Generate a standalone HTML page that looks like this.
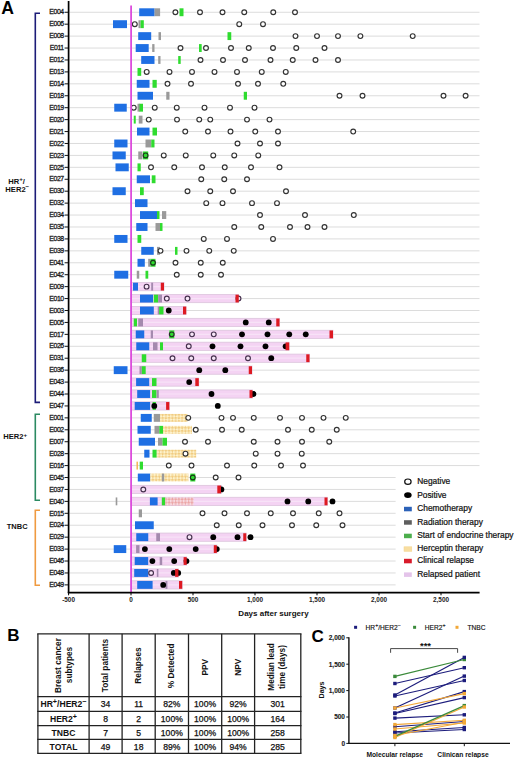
<!DOCTYPE html>
<html><head><meta charset="utf-8"><style>
html,body{margin:0;padding:0;background:#fff;}
body{width:520px;height:758px;overflow:hidden;font-family:"Liberation Sans", sans-serif;}
</style></head><body>
<svg width="520" height="758" viewBox="0 0 520 758" style="display:block" font-family='"Liberation Sans", sans-serif'>
<defs>
<pattern id="hc" width="4.6" height="4.6" patternUnits="userSpaceOnUse" patternTransform="rotate(45)">
<rect width="4.6" height="4.6" fill="#fdf2cc"/><rect width="2.3" height="2.3" fill="#f1cc82"/><rect x="2.3" y="2.3" width="2.3" height="2.3" fill="#f1cc82"/></pattern>
<pattern id="hcp" width="4.6" height="4.6" patternUnits="userSpaceOnUse" patternTransform="rotate(45)">
<rect width="4.6" height="4.6" fill="#f7dbe2"/><rect width="2.3" height="2.3" fill="#eca6a6"/><rect x="2.3" y="2.3" width="2.3" height="2.3" fill="#eca6a6"/></pattern>
</defs>
<rect width="520" height="758" fill="#fff"/>
<line x1="69.5" y1="12.25" x2="479.5" y2="12.25" stroke="#dcdcdc" stroke-width="1"/>
<line x1="69.5" y1="24.18" x2="479.5" y2="24.18" stroke="#dcdcdc" stroke-width="1"/>
<line x1="69.5" y1="36.11" x2="479.5" y2="36.11" stroke="#dcdcdc" stroke-width="1"/>
<line x1="69.5" y1="48.04" x2="479.5" y2="48.04" stroke="#dcdcdc" stroke-width="1"/>
<line x1="69.5" y1="59.97" x2="479.5" y2="59.97" stroke="#dcdcdc" stroke-width="1"/>
<line x1="69.5" y1="71.90" x2="479.5" y2="71.90" stroke="#dcdcdc" stroke-width="1"/>
<line x1="69.5" y1="83.83" x2="479.5" y2="83.83" stroke="#dcdcdc" stroke-width="1"/>
<line x1="69.5" y1="95.76" x2="479.5" y2="95.76" stroke="#dcdcdc" stroke-width="1"/>
<line x1="69.5" y1="107.69" x2="479.5" y2="107.69" stroke="#dcdcdc" stroke-width="1"/>
<line x1="69.5" y1="119.62" x2="479.5" y2="119.62" stroke="#dcdcdc" stroke-width="1"/>
<line x1="69.5" y1="131.55" x2="479.5" y2="131.55" stroke="#dcdcdc" stroke-width="1"/>
<line x1="69.5" y1="143.48" x2="479.5" y2="143.48" stroke="#dcdcdc" stroke-width="1"/>
<line x1="69.5" y1="155.41" x2="479.5" y2="155.41" stroke="#dcdcdc" stroke-width="1"/>
<line x1="69.5" y1="167.34" x2="479.5" y2="167.34" stroke="#dcdcdc" stroke-width="1"/>
<line x1="69.5" y1="179.27" x2="479.5" y2="179.27" stroke="#dcdcdc" stroke-width="1"/>
<line x1="69.5" y1="191.20" x2="479.5" y2="191.20" stroke="#dcdcdc" stroke-width="1"/>
<line x1="69.5" y1="203.13" x2="479.5" y2="203.13" stroke="#dcdcdc" stroke-width="1"/>
<line x1="69.5" y1="215.06" x2="479.5" y2="215.06" stroke="#dcdcdc" stroke-width="1"/>
<line x1="69.5" y1="226.99" x2="479.5" y2="226.99" stroke="#dcdcdc" stroke-width="1"/>
<line x1="69.5" y1="238.92" x2="479.5" y2="238.92" stroke="#dcdcdc" stroke-width="1"/>
<line x1="69.5" y1="250.85" x2="479.5" y2="250.85" stroke="#dcdcdc" stroke-width="1"/>
<line x1="69.5" y1="262.78" x2="479.5" y2="262.78" stroke="#dcdcdc" stroke-width="1"/>
<line x1="69.5" y1="274.71" x2="479.5" y2="274.71" stroke="#dcdcdc" stroke-width="1"/>
<line x1="69.5" y1="286.64" x2="479.5" y2="286.64" stroke="#dcdcdc" stroke-width="1"/>
<line x1="69.5" y1="298.57" x2="479.5" y2="298.57" stroke="#dcdcdc" stroke-width="1"/>
<line x1="69.5" y1="310.50" x2="479.5" y2="310.50" stroke="#dcdcdc" stroke-width="1"/>
<line x1="69.5" y1="322.43" x2="479.5" y2="322.43" stroke="#dcdcdc" stroke-width="1"/>
<line x1="69.5" y1="334.36" x2="479.5" y2="334.36" stroke="#dcdcdc" stroke-width="1"/>
<line x1="69.5" y1="346.29" x2="479.5" y2="346.29" stroke="#dcdcdc" stroke-width="1"/>
<line x1="69.5" y1="358.22" x2="479.5" y2="358.22" stroke="#dcdcdc" stroke-width="1"/>
<line x1="69.5" y1="370.15" x2="479.5" y2="370.15" stroke="#dcdcdc" stroke-width="1"/>
<line x1="69.5" y1="382.08" x2="479.5" y2="382.08" stroke="#dcdcdc" stroke-width="1"/>
<line x1="69.5" y1="394.01" x2="479.5" y2="394.01" stroke="#dcdcdc" stroke-width="1"/>
<line x1="69.5" y1="405.94" x2="479.5" y2="405.94" stroke="#dcdcdc" stroke-width="1"/>
<line x1="69.5" y1="417.87" x2="479.5" y2="417.87" stroke="#dcdcdc" stroke-width="1"/>
<line x1="69.5" y1="429.80" x2="479.5" y2="429.80" stroke="#dcdcdc" stroke-width="1"/>
<line x1="69.5" y1="441.73" x2="479.5" y2="441.73" stroke="#dcdcdc" stroke-width="1"/>
<line x1="69.5" y1="453.66" x2="479.5" y2="453.66" stroke="#dcdcdc" stroke-width="1"/>
<line x1="69.5" y1="465.59" x2="479.5" y2="465.59" stroke="#dcdcdc" stroke-width="1"/>
<line x1="69.5" y1="477.52" x2="479.5" y2="477.52" stroke="#dcdcdc" stroke-width="1"/>
<line x1="69.5" y1="489.45" x2="479.5" y2="489.45" stroke="#dcdcdc" stroke-width="1"/>
<line x1="69.5" y1="501.38" x2="479.5" y2="501.38" stroke="#dcdcdc" stroke-width="1"/>
<line x1="69.5" y1="513.31" x2="479.5" y2="513.31" stroke="#dcdcdc" stroke-width="1"/>
<line x1="69.5" y1="525.24" x2="479.5" y2="525.24" stroke="#dcdcdc" stroke-width="1"/>
<line x1="69.5" y1="537.17" x2="479.5" y2="537.17" stroke="#dcdcdc" stroke-width="1"/>
<line x1="69.5" y1="549.10" x2="479.5" y2="549.10" stroke="#dcdcdc" stroke-width="1"/>
<line x1="69.5" y1="561.03" x2="479.5" y2="561.03" stroke="#dcdcdc" stroke-width="1"/>
<line x1="69.5" y1="572.96" x2="479.5" y2="572.96" stroke="#dcdcdc" stroke-width="1"/>
<line x1="69.5" y1="584.89" x2="479.5" y2="584.89" stroke="#dcdcdc" stroke-width="1"/>
<rect x="131" y="282.54" width="33.00" height="8.2" fill="#f4d3f3" stroke="#dcc4dc" stroke-width="0.8"/>
<line x1="131" y1="286.64" x2="164.00" y2="286.64" stroke="#f7e2f7" stroke-width="1.2"/>
<rect x="131" y="294.47" width="107.50" height="8.2" fill="#f4d3f3" stroke="#dcc4dc" stroke-width="0.8"/>
<line x1="131" y1="298.57" x2="238.50" y2="298.57" stroke="#f7e2f7" stroke-width="1.2"/>
<rect x="131" y="306.40" width="55.00" height="8.2" fill="#f4d3f3" stroke="#dcc4dc" stroke-width="0.8"/>
<line x1="131" y1="310.50" x2="186.00" y2="310.50" stroke="#f7e2f7" stroke-width="1.2"/>
<rect x="131" y="318.33" width="148.50" height="8.2" fill="#f4d3f3" stroke="#dcc4dc" stroke-width="0.8"/>
<line x1="131" y1="322.43" x2="279.50" y2="322.43" stroke="#f7e2f7" stroke-width="1.2"/>
<rect x="131" y="330.26" width="202.00" height="8.2" fill="#f4d3f3" stroke="#dcc4dc" stroke-width="0.8"/>
<line x1="131" y1="334.36" x2="333.00" y2="334.36" stroke="#f7e2f7" stroke-width="1.2"/>
<rect x="131" y="342.19" width="158.00" height="8.2" fill="#f4d3f3" stroke="#dcc4dc" stroke-width="0.8"/>
<line x1="131" y1="346.29" x2="289.00" y2="346.29" stroke="#f7e2f7" stroke-width="1.2"/>
<rect x="131" y="354.12" width="178.50" height="8.2" fill="#f4d3f3" stroke="#dcc4dc" stroke-width="0.8"/>
<line x1="131" y1="358.22" x2="309.50" y2="358.22" stroke="#f7e2f7" stroke-width="1.2"/>
<rect x="131" y="366.05" width="121.00" height="8.2" fill="#f4d3f3" stroke="#dcc4dc" stroke-width="0.8"/>
<line x1="131" y1="370.15" x2="252.00" y2="370.15" stroke="#f7e2f7" stroke-width="1.2"/>
<rect x="131" y="377.98" width="67.75" height="8.2" fill="#f4d3f3" stroke="#dcc4dc" stroke-width="0.8"/>
<line x1="131" y1="382.08" x2="198.75" y2="382.08" stroke="#f7e2f7" stroke-width="1.2"/>
<rect x="131" y="389.91" width="121.50" height="8.2" fill="#f4d3f3" stroke="#dcc4dc" stroke-width="0.8"/>
<line x1="131" y1="394.01" x2="252.50" y2="394.01" stroke="#f7e2f7" stroke-width="1.2"/>
<rect x="131" y="401.84" width="38.30" height="8.2" fill="#f4d3f3" stroke="#dcc4dc" stroke-width="0.8"/>
<line x1="131" y1="405.94" x2="169.30" y2="405.94" stroke="#f7e2f7" stroke-width="1.2"/>
<rect x="131" y="485.35" width="90.50" height="8.2" fill="#f4d3f3" stroke="#dcc4dc" stroke-width="0.8"/>
<line x1="131" y1="489.45" x2="221.50" y2="489.45" stroke="#f7e2f7" stroke-width="1.2"/>
<rect x="131" y="497.28" width="196.50" height="8.2" fill="#f4d3f3" stroke="#dcc4dc" stroke-width="0.8"/>
<line x1="131" y1="501.38" x2="327.50" y2="501.38" stroke="#f7e2f7" stroke-width="1.2"/>
<rect x="131" y="533.07" width="115.25" height="8.2" fill="#f4d3f3" stroke="#dcc4dc" stroke-width="0.8"/>
<line x1="131" y1="537.17" x2="246.25" y2="537.17" stroke="#f7e2f7" stroke-width="1.2"/>
<rect x="131" y="545.00" width="86.00" height="8.2" fill="#f4d3f3" stroke="#dcc4dc" stroke-width="0.8"/>
<line x1="131" y1="549.10" x2="217.00" y2="549.10" stroke="#f7e2f7" stroke-width="1.2"/>
<rect x="131" y="556.93" width="55.70" height="8.2" fill="#f4d3f3" stroke="#dcc4dc" stroke-width="0.8"/>
<line x1="131" y1="561.03" x2="186.70" y2="561.03" stroke="#f7e2f7" stroke-width="1.2"/>
<rect x="131" y="568.86" width="47.40" height="8.2" fill="#f4d3f3" stroke="#dcc4dc" stroke-width="0.8"/>
<line x1="131" y1="572.96" x2="178.40" y2="572.96" stroke="#f7e2f7" stroke-width="1.2"/>
<rect x="131" y="580.79" width="51.20" height="8.2" fill="#f4d3f3" stroke="#dcc4dc" stroke-width="0.8"/>
<line x1="131" y1="584.89" x2="182.20" y2="584.89" stroke="#f7e2f7" stroke-width="1.2"/>
<rect x="139.20" y="8.30" width="15.40" height="7.9" fill="#1f6fe3"/>
<rect x="154.60" y="8.30" width="5.50" height="7.9" fill="#9a9a9a"/>
<rect x="179.50" y="8.30" width="4.00" height="7.9" fill="#2fdc2f"/>
<rect x="113.00" y="20.23" width="14.00" height="7.9" fill="#1f6fe3"/>
<rect x="138.50" y="20.23" width="2.10" height="7.9" fill="#9a9a9a"/>
<rect x="140.60" y="20.23" width="3.20" height="7.9" fill="#2fdc2f"/>
<rect x="138.20" y="32.16" width="13.00" height="7.9" fill="#1f6fe3"/>
<rect x="158.50" y="32.16" width="2.50" height="7.9" fill="#9a9a9a"/>
<rect x="227.50" y="32.16" width="3.75" height="7.9" fill="#2fdc2f"/>
<rect x="135.70" y="44.09" width="13.00" height="7.9" fill="#1f6fe3"/>
<rect x="152.20" y="44.09" width="2.30" height="7.9" fill="#9a9a9a"/>
<rect x="199.00" y="44.09" width="2.70" height="7.9" fill="#2fdc2f"/>
<rect x="141.20" y="56.02" width="13.30" height="7.9" fill="#1f6fe3"/>
<rect x="158.20" y="56.02" width="2.30" height="7.9" fill="#9a9a9a"/>
<rect x="178.20" y="56.02" width="2.50" height="7.9" fill="#2fdc2f"/>
<rect x="137.50" y="67.95" width="3.70" height="7.9" fill="#2fdc2f"/>
<rect x="136.75" y="79.88" width="12.75" height="7.9" fill="#1f6fe3"/>
<rect x="152.50" y="79.88" width="4.25" height="7.9" fill="#2fdc2f"/>
<rect x="137.50" y="91.81" width="15.50" height="7.9" fill="#1f6fe3"/>
<rect x="166.25" y="91.81" width="3.25" height="7.9" fill="#9a9a9a"/>
<rect x="243.75" y="91.81" width="3.25" height="7.9" fill="#2fdc2f"/>
<rect x="114.25" y="103.74" width="12.50" height="7.9" fill="#1f6fe3"/>
<rect x="137.50" y="103.74" width="2.50" height="7.9" fill="#9a9a9a"/>
<rect x="139.50" y="103.74" width="3.50" height="7.9" fill="#2fdc2f"/>
<rect x="133.75" y="115.67" width="2.00" height="7.9" fill="#2fdc2f"/>
<rect x="138.75" y="115.67" width="3.75" height="7.9" fill="#9a9a9a"/>
<rect x="137.00" y="127.60" width="12.50" height="7.9" fill="#1f6fe3"/>
<rect x="152.50" y="127.60" width="4.50" height="7.9" fill="#2fdc2f"/>
<rect x="114.25" y="139.53" width="13.25" height="7.9" fill="#1f6fe3"/>
<rect x="145.50" y="139.53" width="5.75" height="7.9" fill="#9a9a9a"/>
<rect x="151.25" y="139.53" width="3.25" height="7.9" fill="#2fdc2f"/>
<rect x="112.50" y="151.46" width="13.25" height="7.9" fill="#1f6fe3"/>
<rect x="138.25" y="151.46" width="4.25" height="7.9" fill="#9a9a9a"/>
<rect x="143.00" y="151.46" width="5.20" height="7.9" fill="#2fdc2f"/>
<rect x="115.50" y="163.39" width="13.25" height="7.9" fill="#1f6fe3"/>
<rect x="137.50" y="163.39" width="3.25" height="7.9" fill="#2fdc2f"/>
<rect x="136.75" y="175.32" width="13.25" height="7.9" fill="#1f6fe3"/>
<rect x="151.75" y="175.32" width="3.75" height="7.9" fill="#2fdc2f"/>
<rect x="112.50" y="187.25" width="13.25" height="7.9" fill="#1f6fe3"/>
<rect x="140.00" y="187.25" width="3.75" height="7.9" fill="#2fdc2f"/>
<rect x="135.00" y="199.18" width="12.50" height="7.9" fill="#1f6fe3"/>
<rect x="140.00" y="211.11" width="17.00" height="7.9" fill="#1f6fe3"/>
<rect x="157.00" y="211.11" width="2.50" height="7.9" fill="#2fdc2f"/>
<rect x="162.00" y="211.11" width="4.25" height="7.9" fill="#9a9a9a"/>
<rect x="136.25" y="223.04" width="11.25" height="7.9" fill="#1f6fe3"/>
<rect x="155.50" y="223.04" width="4.50" height="7.9" fill="#9a9a9a"/>
<rect x="160.00" y="223.04" width="2.50" height="7.9" fill="#2fdc2f"/>
<rect x="114.25" y="234.97" width="13.25" height="7.9" fill="#1f6fe3"/>
<rect x="137.50" y="234.97" width="3.75" height="7.9" fill="#2fdc2f"/>
<rect x="141.25" y="246.90" width="12.50" height="7.9" fill="#1f6fe3"/>
<rect x="157.00" y="246.90" width="3.00" height="7.9" fill="#9a9a9a"/>
<rect x="175.00" y="246.90" width="2.50" height="7.9" fill="#2fdc2f"/>
<rect x="137.50" y="258.83" width="7.30" height="7.9" fill="#1f6fe3"/>
<rect x="148.20" y="258.83" width="2.40" height="7.9" fill="#9a9a9a"/>
<rect x="150.50" y="258.83" width="5.00" height="7.9" fill="#2fdc2f"/>
<rect x="114.25" y="270.76" width="14.00" height="7.9" fill="#1f6fe3"/>
<rect x="136.75" y="270.76" width="2.50" height="7.9" fill="#9a9a9a"/>
<rect x="145.50" y="270.76" width="2.75" height="7.9" fill="#2fdc2f"/>
<rect x="133.00" y="282.69" width="5.00" height="7.9" fill="#1f6fe3"/>
<rect x="151.20" y="282.69" width="1.90" height="7.9" fill="#a48aae"/>
<rect x="140.00" y="294.62" width="13.00" height="7.9" fill="#1f6fe3"/>
<rect x="153.75" y="294.62" width="4.45" height="7.9" fill="#2fdc2f"/>
<rect x="158.20" y="294.62" width="3.80" height="7.9" fill="#a48aae"/>
<rect x="140.00" y="306.55" width="13.80" height="7.9" fill="#1f6fe3"/>
<rect x="157.70" y="306.55" width="1.40" height="7.9" fill="#a48aae"/>
<rect x="159.10" y="306.55" width="4.40" height="7.9" fill="#2fdc2f"/>
<rect x="133.75" y="318.48" width="3.25" height="7.9" fill="#2fdc2f"/>
<rect x="138.25" y="318.48" width="4.75" height="7.9" fill="#a48aae"/>
<rect x="135.75" y="330.41" width="8.50" height="7.9" fill="#1f6fe3"/>
<rect x="150.75" y="330.41" width="2.25" height="7.9" fill="#a48aae"/>
<rect x="169.30" y="330.41" width="5.00" height="7.9" fill="#2fdc2f"/>
<rect x="136.25" y="342.34" width="13.00" height="7.9" fill="#1f6fe3"/>
<rect x="153.00" y="342.34" width="4.50" height="7.9" fill="#a48aae"/>
<rect x="160.00" y="342.34" width="3.00" height="7.9" fill="#2fdc2f"/>
<rect x="141.75" y="354.27" width="4.50" height="7.9" fill="#2fdc2f"/>
<rect x="113.75" y="366.20" width="13.75" height="7.9" fill="#1f6fe3"/>
<rect x="139.50" y="366.20" width="2.30" height="7.9" fill="#a48aae"/>
<rect x="141.80" y="366.20" width="3.90" height="7.9" fill="#2fdc2f"/>
<rect x="136.10" y="378.13" width="13.10" height="7.9" fill="#1f6fe3"/>
<rect x="152.00" y="378.13" width="4.50" height="7.9" fill="#2fdc2f"/>
<rect x="137.20" y="390.06" width="12.90" height="7.9" fill="#1f6fe3"/>
<rect x="152.00" y="390.06" width="4.50" height="7.9" fill="#2fdc2f"/>
<rect x="156.80" y="390.06" width="2.00" height="7.9" fill="#a48aae"/>
<rect x="134.70" y="401.99" width="15.40" height="7.9" fill="#1f6fe3"/>
<rect x="152.60" y="401.99" width="3.30" height="7.9" fill="#2fdc2f"/>
<rect x="140.75" y="413.92" width="11.00" height="7.9" fill="#1f6fe3"/>
<rect x="153.75" y="413.92" width="6.25" height="7.9" fill="#9a9a9a"/>
<rect x="160.00" y="413.92" width="27.50" height="7.9" fill="url(#hc)"/>
<rect x="137.50" y="425.85" width="13.25" height="7.9" fill="#1f6fe3"/>
<rect x="154.50" y="425.85" width="4.75" height="7.9" fill="#9a9a9a"/>
<rect x="159.25" y="425.85" width="3.75" height="7.9" fill="#2fdc2f"/>
<rect x="163.00" y="425.85" width="29.00" height="7.9" fill="url(#hc)"/>
<rect x="138.75" y="437.78" width="16.25" height="7.9" fill="#1f6fe3"/>
<rect x="158.00" y="437.78" width="4.50" height="7.9" fill="#9a9a9a"/>
<rect x="162.50" y="437.78" width="4.50" height="7.9" fill="#2fdc2f"/>
<rect x="144.25" y="449.71" width="5.25" height="7.9" fill="#1f6fe3"/>
<rect x="152.50" y="449.71" width="4.25" height="7.9" fill="#2fdc2f"/>
<rect x="156.75" y="449.71" width="39.50" height="7.9" fill="url(#hc)"/>
<rect x="136.50" y="461.64" width="1.40" height="7.9" fill="#f2b24a"/>
<rect x="139.70" y="461.64" width="3.30" height="7.9" fill="#2fdc2f"/>
<rect x="137.80" y="473.57" width="12.50" height="7.9" fill="#1f6fe3"/>
<rect x="150.30" y="473.57" width="38.10" height="7.9" fill="url(#hc)"/>
<rect x="161.80" y="473.57" width="2.40" height="7.9" fill="#9a9a9a"/>
<rect x="190.30" y="473.57" width="5.00" height="7.9" fill="#2fdc2f"/>
<rect x="115.70" y="497.43" width="1.60" height="7.9" fill="#9a9a9a"/>
<rect x="149.90" y="497.43" width="7.70" height="7.9" fill="#1f6fe3"/>
<rect x="161.80" y="497.43" width="3.50" height="7.9" fill="#2fdc2f"/>
<rect x="165.30" y="497.43" width="28.30" height="7.9" fill="url(#hcp)"/>
<rect x="138.75" y="509.36" width="3.25" height="7.9" fill="#9a9a9a"/>
<rect x="135.00" y="521.29" width="18.75" height="7.9" fill="#1f6fe3"/>
<rect x="136.25" y="533.22" width="12.00" height="7.9" fill="#1f6fe3"/>
<rect x="156.25" y="533.22" width="3.75" height="7.9" fill="#a48aae"/>
<rect x="113.75" y="545.15" width="12.50" height="7.9" fill="#1f6fe3"/>
<rect x="136.10" y="545.15" width="3.40" height="7.9" fill="#a48aae"/>
<rect x="134.70" y="557.08" width="13.50" height="7.9" fill="#1f6fe3"/>
<rect x="159.70" y="557.08" width="2.50" height="7.9" fill="#a48aae"/>
<rect x="134.20" y="569.01" width="14.00" height="7.9" fill="#1f6fe3"/>
<rect x="156.80" y="569.01" width="1.60" height="7.9" fill="#a48aae"/>
<rect x="137.20" y="580.94" width="15.40" height="7.9" fill="#1f6fe3"/>
<rect x="165.50" y="580.94" width="1.90" height="7.9" fill="#a48aae"/>
<circle cx="175.40" cy="12.25" r="2.4" fill="#fff" stroke="#333" stroke-width="1.15"/>
<circle cx="200.00" cy="12.25" r="2.4" fill="#fff" stroke="#333" stroke-width="1.15"/>
<circle cx="222.50" cy="12.25" r="2.4" fill="#fff" stroke="#333" stroke-width="1.15"/>
<circle cx="244.25" cy="12.25" r="2.4" fill="#fff" stroke="#333" stroke-width="1.15"/>
<circle cx="273.25" cy="12.25" r="2.4" fill="#fff" stroke="#333" stroke-width="1.15"/>
<circle cx="295.00" cy="12.25" r="2.4" fill="#fff" stroke="#333" stroke-width="1.15"/>
<circle cx="134.80" cy="24.18" r="2.4" fill="#fff" stroke="#333" stroke-width="1.15"/>
<circle cx="239.25" cy="24.18" r="2.4" fill="#fff" stroke="#333" stroke-width="1.15"/>
<circle cx="263.00" cy="24.18" r="2.4" fill="#fff" stroke="#333" stroke-width="1.15"/>
<circle cx="295.50" cy="36.11" r="2.4" fill="#fff" stroke="#333" stroke-width="1.15"/>
<circle cx="317.00" cy="36.11" r="2.4" fill="#fff" stroke="#333" stroke-width="1.15"/>
<circle cx="338.00" cy="36.11" r="2.4" fill="#fff" stroke="#333" stroke-width="1.15"/>
<circle cx="360.40" cy="36.11" r="2.4" fill="#fff" stroke="#333" stroke-width="1.15"/>
<circle cx="412.70" cy="36.11" r="2.4" fill="#fff" stroke="#333" stroke-width="1.15"/>
<circle cx="180.50" cy="48.04" r="2.4" fill="#fff" stroke="#333" stroke-width="1.15"/>
<circle cx="206.00" cy="48.04" r="2.4" fill="#fff" stroke="#333" stroke-width="1.15"/>
<circle cx="231.00" cy="48.04" r="2.4" fill="#fff" stroke="#333" stroke-width="1.15"/>
<circle cx="248.75" cy="48.04" r="2.4" fill="#fff" stroke="#333" stroke-width="1.15"/>
<circle cx="273.00" cy="48.04" r="2.4" fill="#fff" stroke="#333" stroke-width="1.15"/>
<circle cx="296.25" cy="48.04" r="2.4" fill="#fff" stroke="#333" stroke-width="1.15"/>
<circle cx="324.50" cy="48.04" r="2.4" fill="#fff" stroke="#333" stroke-width="1.15"/>
<circle cx="200.50" cy="59.97" r="2.4" fill="#fff" stroke="#333" stroke-width="1.15"/>
<circle cx="223.00" cy="59.97" r="2.4" fill="#fff" stroke="#333" stroke-width="1.15"/>
<circle cx="245.00" cy="59.97" r="2.4" fill="#fff" stroke="#333" stroke-width="1.15"/>
<circle cx="270.50" cy="59.97" r="2.4" fill="#fff" stroke="#333" stroke-width="1.15"/>
<circle cx="292.75" cy="59.97" r="2.4" fill="#fff" stroke="#333" stroke-width="1.15"/>
<circle cx="315.50" cy="59.97" r="2.4" fill="#fff" stroke="#333" stroke-width="1.15"/>
<circle cx="338.00" cy="59.97" r="2.4" fill="#fff" stroke="#333" stroke-width="1.15"/>
<circle cx="146.70" cy="71.90" r="2.4" fill="#fff" stroke="#333" stroke-width="1.15"/>
<circle cx="169.50" cy="71.90" r="2.4" fill="#fff" stroke="#333" stroke-width="1.15"/>
<circle cx="192.00" cy="71.90" r="2.4" fill="#fff" stroke="#333" stroke-width="1.15"/>
<circle cx="214.50" cy="71.90" r="2.4" fill="#fff" stroke="#333" stroke-width="1.15"/>
<circle cx="237.00" cy="71.90" r="2.4" fill="#fff" stroke="#333" stroke-width="1.15"/>
<circle cx="261.75" cy="71.90" r="2.4" fill="#fff" stroke="#333" stroke-width="1.15"/>
<circle cx="285.75" cy="71.90" r="2.4" fill="#fff" stroke="#333" stroke-width="1.15"/>
<circle cx="167.50" cy="83.83" r="2.4" fill="#fff" stroke="#333" stroke-width="1.15"/>
<circle cx="191.00" cy="83.83" r="2.4" fill="#fff" stroke="#333" stroke-width="1.15"/>
<circle cx="238.00" cy="83.83" r="2.4" fill="#fff" stroke="#333" stroke-width="1.15"/>
<circle cx="258.00" cy="83.83" r="2.4" fill="#fff" stroke="#333" stroke-width="1.15"/>
<circle cx="283.25" cy="83.83" r="2.4" fill="#fff" stroke="#333" stroke-width="1.15"/>
<circle cx="339.50" cy="95.76" r="2.4" fill="#fff" stroke="#333" stroke-width="1.15"/>
<circle cx="362.50" cy="95.76" r="2.4" fill="#fff" stroke="#333" stroke-width="1.15"/>
<circle cx="443.50" cy="95.76" r="2.4" fill="#fff" stroke="#333" stroke-width="1.15"/>
<circle cx="465.60" cy="95.76" r="2.4" fill="#fff" stroke="#333" stroke-width="1.15"/>
<circle cx="133.75" cy="107.69" r="2.4" fill="#fff" stroke="#333" stroke-width="1.15"/>
<circle cx="154.75" cy="107.69" r="2.4" fill="#fff" stroke="#333" stroke-width="1.15"/>
<circle cx="176.75" cy="107.69" r="2.4" fill="#fff" stroke="#333" stroke-width="1.15"/>
<circle cx="204.50" cy="107.69" r="2.4" fill="#fff" stroke="#333" stroke-width="1.15"/>
<circle cx="230.00" cy="107.69" r="2.4" fill="#fff" stroke="#333" stroke-width="1.15"/>
<circle cx="254.50" cy="107.69" r="2.4" fill="#fff" stroke="#333" stroke-width="1.15"/>
<circle cx="148.75" cy="119.62" r="2.4" fill="#fff" stroke="#333" stroke-width="1.15"/>
<circle cx="177.00" cy="119.62" r="2.4" fill="#fff" stroke="#333" stroke-width="1.15"/>
<circle cx="199.25" cy="119.62" r="2.4" fill="#fff" stroke="#333" stroke-width="1.15"/>
<circle cx="210.25" cy="119.62" r="2.4" fill="#fff" stroke="#333" stroke-width="1.15"/>
<circle cx="247.00" cy="119.62" r="2.4" fill="#fff" stroke="#333" stroke-width="1.15"/>
<circle cx="269.50" cy="119.62" r="2.4" fill="#fff" stroke="#333" stroke-width="1.15"/>
<circle cx="185.25" cy="131.55" r="2.4" fill="#fff" stroke="#333" stroke-width="1.15"/>
<circle cx="208.00" cy="131.55" r="2.4" fill="#fff" stroke="#333" stroke-width="1.15"/>
<circle cx="230.50" cy="131.55" r="2.4" fill="#fff" stroke="#333" stroke-width="1.15"/>
<circle cx="255.25" cy="131.55" r="2.4" fill="#fff" stroke="#333" stroke-width="1.15"/>
<circle cx="278.00" cy="131.55" r="2.4" fill="#fff" stroke="#333" stroke-width="1.15"/>
<circle cx="353.20" cy="131.55" r="2.4" fill="#fff" stroke="#333" stroke-width="1.15"/>
<circle cx="237.50" cy="143.48" r="2.4" fill="#fff" stroke="#333" stroke-width="1.15"/>
<circle cx="260.00" cy="143.48" r="2.4" fill="#fff" stroke="#333" stroke-width="1.15"/>
<circle cx="278.00" cy="143.48" r="2.4" fill="#fff" stroke="#333" stroke-width="1.15"/>
<circle cx="145.60" cy="155.41" r="2.4" fill="none" stroke="#1a3a1a" stroke-width="1.15"/>
<circle cx="163.75" cy="155.41" r="2.4" fill="#fff" stroke="#333" stroke-width="1.15"/>
<circle cx="185.75" cy="155.41" r="2.4" fill="#fff" stroke="#333" stroke-width="1.15"/>
<circle cx="213.25" cy="155.41" r="2.4" fill="#fff" stroke="#333" stroke-width="1.15"/>
<circle cx="234.25" cy="155.41" r="2.4" fill="#fff" stroke="#333" stroke-width="1.15"/>
<circle cx="258.25" cy="155.41" r="2.4" fill="#fff" stroke="#333" stroke-width="1.15"/>
<circle cx="151.00" cy="167.34" r="2.4" fill="#fff" stroke="#333" stroke-width="1.15"/>
<circle cx="174.25" cy="167.34" r="2.4" fill="#fff" stroke="#333" stroke-width="1.15"/>
<circle cx="202.00" cy="167.34" r="2.4" fill="#fff" stroke="#333" stroke-width="1.15"/>
<circle cx="224.75" cy="167.34" r="2.4" fill="#fff" stroke="#333" stroke-width="1.15"/>
<circle cx="251.00" cy="167.34" r="2.4" fill="#fff" stroke="#333" stroke-width="1.15"/>
<circle cx="279.50" cy="167.34" r="2.4" fill="#fff" stroke="#333" stroke-width="1.15"/>
<circle cx="201.25" cy="179.27" r="2.4" fill="#fff" stroke="#333" stroke-width="1.15"/>
<circle cx="224.25" cy="179.27" r="2.4" fill="#fff" stroke="#333" stroke-width="1.15"/>
<circle cx="247.00" cy="179.27" r="2.4" fill="#fff" stroke="#333" stroke-width="1.15"/>
<circle cx="187.50" cy="191.20" r="2.4" fill="#fff" stroke="#333" stroke-width="1.15"/>
<circle cx="210.25" cy="191.20" r="2.4" fill="#fff" stroke="#333" stroke-width="1.15"/>
<circle cx="233.00" cy="191.20" r="2.4" fill="#fff" stroke="#333" stroke-width="1.15"/>
<circle cx="286.00" cy="191.20" r="2.4" fill="#fff" stroke="#333" stroke-width="1.15"/>
<circle cx="206.25" cy="203.13" r="2.4" fill="#fff" stroke="#333" stroke-width="1.15"/>
<circle cx="222.50" cy="203.13" r="2.4" fill="#fff" stroke="#333" stroke-width="1.15"/>
<circle cx="252.00" cy="203.13" r="2.4" fill="#fff" stroke="#333" stroke-width="1.15"/>
<circle cx="277.00" cy="203.13" r="2.4" fill="#fff" stroke="#333" stroke-width="1.15"/>
<circle cx="260.00" cy="215.06" r="2.4" fill="#fff" stroke="#333" stroke-width="1.15"/>
<circle cx="305.00" cy="215.06" r="2.4" fill="#fff" stroke="#333" stroke-width="1.15"/>
<circle cx="353.80" cy="215.06" r="2.4" fill="#fff" stroke="#333" stroke-width="1.15"/>
<circle cx="234.25" cy="226.99" r="2.4" fill="#fff" stroke="#333" stroke-width="1.15"/>
<circle cx="261.25" cy="226.99" r="2.4" fill="#fff" stroke="#333" stroke-width="1.15"/>
<circle cx="290.00" cy="226.99" r="2.4" fill="#fff" stroke="#333" stroke-width="1.15"/>
<circle cx="307.50" cy="226.99" r="2.4" fill="#fff" stroke="#333" stroke-width="1.15"/>
<circle cx="324.50" cy="226.99" r="2.4" fill="#fff" stroke="#333" stroke-width="1.15"/>
<circle cx="203.75" cy="238.92" r="2.4" fill="#fff" stroke="#333" stroke-width="1.15"/>
<circle cx="227.00" cy="238.92" r="2.4" fill="#fff" stroke="#333" stroke-width="1.15"/>
<circle cx="273.00" cy="238.92" r="2.4" fill="#fff" stroke="#333" stroke-width="1.15"/>
<circle cx="160.50" cy="250.85" r="2.4" fill="#fff" stroke="#333" stroke-width="1.15"/>
<circle cx="186.50" cy="250.85" r="2.4" fill="#fff" stroke="#333" stroke-width="1.15"/>
<circle cx="209.25" cy="250.85" r="2.4" fill="#fff" stroke="#333" stroke-width="1.15"/>
<circle cx="233.75" cy="250.85" r="2.4" fill="#fff" stroke="#333" stroke-width="1.15"/>
<circle cx="153.00" cy="262.78" r="2.4" fill="none" stroke="#1a3a1a" stroke-width="1.15"/>
<circle cx="175.50" cy="262.78" r="2.4" fill="#fff" stroke="#333" stroke-width="1.15"/>
<circle cx="200.75" cy="262.78" r="2.4" fill="#fff" stroke="#333" stroke-width="1.15"/>
<circle cx="222.75" cy="262.78" r="2.4" fill="#fff" stroke="#333" stroke-width="1.15"/>
<circle cx="176.75" cy="274.71" r="2.4" fill="#fff" stroke="#333" stroke-width="1.15"/>
<circle cx="200.75" cy="274.71" r="2.4" fill="#fff" stroke="#333" stroke-width="1.15"/>
<circle cx="221.00" cy="274.71" r="2.4" fill="#fff" stroke="#333" stroke-width="1.15"/>
<circle cx="146.60" cy="286.64" r="2.4" fill="#f8e6f8" stroke="#45304d" stroke-width="1.15"/>
<rect x="160.80" y="282.74" width="3.20" height="7.8" fill="#dd1a22"/>
<circle cx="166.80" cy="298.57" r="2.4" fill="#f8e6f8" stroke="#45304d" stroke-width="1.15"/>
<circle cx="187.50" cy="298.57" r="2.4" fill="#f8e6f8" stroke="#45304d" stroke-width="1.15"/>
<circle cx="238.50" cy="298.57" r="2.4" fill="#f8e6f8" stroke="#45304d" stroke-width="1.15"/>
<rect x="235.50" y="294.67" width="3.25" height="7.8" fill="#dd1a22"/>
<circle cx="168.75" cy="310.50" r="2.9" fill="#000"/>
<rect x="183.00" y="306.60" width="3.25" height="7.8" fill="#dd1a22"/>
<circle cx="245.75" cy="322.43" r="2.9" fill="#000"/>
<circle cx="268.75" cy="322.43" r="2.9" fill="#000"/>
<rect x="276.25" y="318.53" width="3.25" height="7.8" fill="#dd1a22"/>
<circle cx="171.75" cy="334.36" r="2.4" fill="none" stroke="#2a2a2a" stroke-width="1.15"/>
<circle cx="192.00" cy="334.36" r="2.4" fill="#f8e6f8" stroke="#45304d" stroke-width="1.15"/>
<circle cx="213.75" cy="334.36" r="2.4" fill="#f8e6f8" stroke="#45304d" stroke-width="1.15"/>
<circle cx="242.00" cy="334.36" r="2.9" fill="#000"/>
<circle cx="267.50" cy="334.36" r="2.9" fill="#000"/>
<circle cx="289.25" cy="334.36" r="2.9" fill="#000"/>
<circle cx="305.75" cy="334.36" r="2.9" fill="#000"/>
<rect x="329.50" y="330.46" width="3.50" height="7.8" fill="#dd1a22"/>
<circle cx="188.75" cy="346.29" r="2.4" fill="#f8e6f8" stroke="#45304d" stroke-width="1.15"/>
<circle cx="212.50" cy="346.29" r="2.9" fill="#000"/>
<circle cx="240.50" cy="346.29" r="2.9" fill="#000"/>
<circle cx="265.50" cy="346.29" r="2.9" fill="#000"/>
<circle cx="285.60" cy="346.29" r="2.9" fill="#000"/>
<rect x="285.60" y="342.39" width="3.65" height="7.8" fill="#dd1a22"/>
<circle cx="172.50" cy="358.22" r="2.4" fill="#f8e6f8" stroke="#45304d" stroke-width="1.15"/>
<circle cx="191.25" cy="358.22" r="2.4" fill="#f8e6f8" stroke="#45304d" stroke-width="1.15"/>
<circle cx="213.75" cy="358.22" r="2.4" fill="#f8e6f8" stroke="#45304d" stroke-width="1.15"/>
<circle cx="248.00" cy="358.22" r="2.4" fill="#f8e6f8" stroke="#45304d" stroke-width="1.15"/>
<circle cx="271.25" cy="358.22" r="2.9" fill="#000"/>
<rect x="306.25" y="354.32" width="3.25" height="7.8" fill="#dd1a22"/>
<circle cx="199.25" cy="370.15" r="2.9" fill="#000"/>
<circle cx="225.30" cy="370.15" r="2.9" fill="#000"/>
<rect x="248.75" y="366.25" width="3.25" height="7.8" fill="#dd1a22"/>
<circle cx="189.20" cy="382.08" r="2.9" fill="#000"/>
<rect x="195.30" y="378.18" width="3.50" height="7.8" fill="#dd1a22"/>
<circle cx="211.50" cy="394.01" r="2.9" fill="#000"/>
<circle cx="253.50" cy="394.01" r="2.9" fill="#000"/>
<rect x="249.50" y="390.11" width="3.00" height="7.8" fill="#dd1a22"/>
<circle cx="154.30" cy="405.94" r="2.9" fill="#000"/>
<circle cx="217.80" cy="405.94" r="2.9" fill="#000"/>
<rect x="166.10" y="402.04" width="3.20" height="7.8" fill="#dd1a22"/>
<circle cx="188.25" cy="417.87" r="2.4" fill="#fff" stroke="#333" stroke-width="1.15"/>
<circle cx="221.50" cy="417.87" r="2.4" fill="#fff" stroke="#333" stroke-width="1.15"/>
<circle cx="233.00" cy="417.87" r="2.4" fill="#fff" stroke="#333" stroke-width="1.15"/>
<circle cx="253.75" cy="417.87" r="2.4" fill="#fff" stroke="#333" stroke-width="1.15"/>
<circle cx="280.00" cy="417.87" r="2.4" fill="#fff" stroke="#333" stroke-width="1.15"/>
<circle cx="302.00" cy="417.87" r="2.4" fill="#fff" stroke="#333" stroke-width="1.15"/>
<circle cx="323.50" cy="417.87" r="2.4" fill="#fff" stroke="#333" stroke-width="1.15"/>
<circle cx="345.75" cy="417.87" r="2.4" fill="#fff" stroke="#333" stroke-width="1.15"/>
<circle cx="195.75" cy="429.80" r="2.4" fill="#fff" stroke="#333" stroke-width="1.15"/>
<circle cx="222.00" cy="429.80" r="2.4" fill="#fff" stroke="#333" stroke-width="1.15"/>
<circle cx="241.75" cy="429.80" r="2.4" fill="#fff" stroke="#333" stroke-width="1.15"/>
<circle cx="288.00" cy="429.80" r="2.4" fill="#fff" stroke="#333" stroke-width="1.15"/>
<circle cx="311.75" cy="429.80" r="2.4" fill="#fff" stroke="#333" stroke-width="1.15"/>
<circle cx="336.75" cy="429.80" r="2.4" fill="#fff" stroke="#333" stroke-width="1.15"/>
<circle cx="185.00" cy="441.73" r="2.4" fill="#fff" stroke="#333" stroke-width="1.15"/>
<circle cx="208.00" cy="441.73" r="2.4" fill="#fff" stroke="#333" stroke-width="1.15"/>
<circle cx="253.75" cy="441.73" r="2.4" fill="#fff" stroke="#333" stroke-width="1.15"/>
<circle cx="277.50" cy="441.73" r="2.4" fill="#fff" stroke="#333" stroke-width="1.15"/>
<circle cx="302.00" cy="441.73" r="2.4" fill="#fff" stroke="#333" stroke-width="1.15"/>
<circle cx="329.25" cy="441.73" r="2.4" fill="#fff" stroke="#333" stroke-width="1.15"/>
<circle cx="185.50" cy="453.66" r="2.4" fill="#fff" stroke="#333" stroke-width="1.15"/>
<circle cx="255.75" cy="453.66" r="2.4" fill="#fff" stroke="#333" stroke-width="1.15"/>
<circle cx="277.50" cy="453.66" r="2.4" fill="#fff" stroke="#333" stroke-width="1.15"/>
<circle cx="301.75" cy="453.66" r="2.4" fill="#fff" stroke="#333" stroke-width="1.15"/>
<circle cx="168.80" cy="465.59" r="2.4" fill="#fff" stroke="#333" stroke-width="1.15"/>
<circle cx="191.50" cy="465.59" r="2.4" fill="#fff" stroke="#333" stroke-width="1.15"/>
<circle cx="227.00" cy="465.59" r="2.4" fill="#fff" stroke="#333" stroke-width="1.15"/>
<circle cx="254.25" cy="465.59" r="2.4" fill="#fff" stroke="#333" stroke-width="1.15"/>
<circle cx="281.00" cy="465.59" r="2.4" fill="#fff" stroke="#333" stroke-width="1.15"/>
<circle cx="303.00" cy="465.59" r="2.4" fill="#fff" stroke="#333" stroke-width="1.15"/>
<circle cx="192.80" cy="477.52" r="2.4" fill="none" stroke="#1a3a1a" stroke-width="1.15"/>
<circle cx="215.70" cy="477.52" r="2.4" fill="#fff" stroke="#333" stroke-width="1.15"/>
<circle cx="238.50" cy="477.52" r="2.4" fill="#fff" stroke="#333" stroke-width="1.15"/>
<circle cx="143.30" cy="489.45" r="2.4" fill="#f8e6f8" stroke="#45304d" stroke-width="1.15"/>
<circle cx="221.40" cy="489.45" r="2.9" fill="#000"/>
<rect x="217.30" y="485.55" width="3.70" height="7.8" fill="#dd1a22"/>
<circle cx="287.50" cy="501.38" r="2.9" fill="#000"/>
<circle cx="308.25" cy="501.38" r="2.9" fill="#000"/>
<circle cx="332.50" cy="501.38" r="2.9" fill="#000"/>
<rect x="324.50" y="497.48" width="3.00" height="7.8" fill="#dd1a22"/>
<circle cx="202.50" cy="513.31" r="2.4" fill="#fff" stroke="#333" stroke-width="1.15"/>
<circle cx="224.50" cy="513.31" r="2.4" fill="#fff" stroke="#333" stroke-width="1.15"/>
<circle cx="247.00" cy="513.31" r="2.4" fill="#fff" stroke="#333" stroke-width="1.15"/>
<circle cx="270.75" cy="513.31" r="2.4" fill="#fff" stroke="#333" stroke-width="1.15"/>
<circle cx="293.00" cy="513.31" r="2.4" fill="#fff" stroke="#333" stroke-width="1.15"/>
<circle cx="318.75" cy="513.31" r="2.4" fill="#fff" stroke="#333" stroke-width="1.15"/>
<circle cx="339.50" cy="513.31" r="2.4" fill="#fff" stroke="#333" stroke-width="1.15"/>
<circle cx="216.75" cy="525.24" r="2.4" fill="#fff" stroke="#333" stroke-width="1.15"/>
<circle cx="238.75" cy="525.24" r="2.4" fill="#fff" stroke="#333" stroke-width="1.15"/>
<circle cx="262.50" cy="525.24" r="2.4" fill="#fff" stroke="#333" stroke-width="1.15"/>
<circle cx="292.00" cy="525.24" r="2.4" fill="#fff" stroke="#333" stroke-width="1.15"/>
<circle cx="316.25" cy="525.24" r="2.4" fill="#fff" stroke="#333" stroke-width="1.15"/>
<circle cx="342.50" cy="525.24" r="2.4" fill="#fff" stroke="#333" stroke-width="1.15"/>
<circle cx="189.50" cy="537.17" r="2.4" fill="#f8e6f8" stroke="#45304d" stroke-width="1.15"/>
<circle cx="213.25" cy="537.17" r="2.9" fill="#000"/>
<circle cx="237.50" cy="537.17" r="2.9" fill="#000"/>
<circle cx="250.50" cy="537.17" r="2.9" fill="#000"/>
<rect x="243.25" y="533.27" width="3.00" height="7.8" fill="#dd1a22"/>
<circle cx="144.90" cy="549.10" r="2.9" fill="#000"/>
<circle cx="169.30" cy="549.10" r="2.9" fill="#000"/>
<circle cx="195.70" cy="549.10" r="2.9" fill="#000"/>
<circle cx="216.80" cy="549.10" r="2.9" fill="#000"/>
<rect x="213.80" y="545.20" width="3.00" height="7.8" fill="#dd1a22"/>
<circle cx="152.40" cy="561.03" r="2.9" fill="#000"/>
<circle cx="174.20" cy="561.03" r="2.9" fill="#000"/>
<circle cx="186.50" cy="561.03" r="2.9" fill="#000"/>
<rect x="183.60" y="557.13" width="3.10" height="7.8" fill="#dd1a22"/>
<circle cx="151.10" cy="572.96" r="2.4" fill="#f8e6f8" stroke="#45304d" stroke-width="1.15"/>
<circle cx="173.80" cy="572.96" r="2.9" fill="#000"/>
<circle cx="178.20" cy="572.96" r="2.9" fill="#000"/>
<rect x="175.10" y="569.06" width="3.30" height="7.8" fill="#dd1a22"/>
<circle cx="163.20" cy="584.89" r="2.9" fill="#000"/>
<rect x="179.00" y="580.99" width="3.20" height="7.8" fill="#dd1a22"/>
<line x1="131.1" y1="5.4" x2="131.1" y2="592" stroke="#dc4cdc" stroke-width="1.8"/>
<line x1="68.6" y1="1" x2="68.6" y2="593" stroke="#000" stroke-width="1.7"/>
<line x1="67.8" y1="592.6" x2="479.6" y2="592.6" stroke="#000" stroke-width="1.6"/>
<line x1="64.6" y1="12.25" x2="68" y2="12.25" stroke="#111" stroke-width="1"/>
<text x="63.80" y="14.45" font-size="6.9" text-anchor="end" fill="#1a1a1a" stroke="#1a1a1a" stroke-width="0.28" letter-spacing="-0.4">E004</text>
<line x1="64.6" y1="24.18" x2="68" y2="24.18" stroke="#111" stroke-width="1"/>
<text x="63.80" y="26.38" font-size="6.9" text-anchor="end" fill="#1a1a1a" stroke="#1a1a1a" stroke-width="0.28" letter-spacing="-0.4">E006</text>
<line x1="64.6" y1="36.11" x2="68" y2="36.11" stroke="#111" stroke-width="1"/>
<text x="63.80" y="38.31" font-size="6.9" text-anchor="end" fill="#1a1a1a" stroke="#1a1a1a" stroke-width="0.28" letter-spacing="-0.4">E008</text>
<line x1="64.6" y1="48.04" x2="68" y2="48.04" stroke="#111" stroke-width="1"/>
<text x="63.80" y="50.24" font-size="6.9" text-anchor="end" fill="#1a1a1a" stroke="#1a1a1a" stroke-width="0.28" letter-spacing="-0.4">E011</text>
<line x1="64.6" y1="59.97" x2="68" y2="59.97" stroke="#111" stroke-width="1"/>
<text x="63.80" y="62.17" font-size="6.9" text-anchor="end" fill="#1a1a1a" stroke="#1a1a1a" stroke-width="0.28" letter-spacing="-0.4">E012</text>
<line x1="64.6" y1="71.90" x2="68" y2="71.90" stroke="#111" stroke-width="1"/>
<text x="63.80" y="74.10" font-size="6.9" text-anchor="end" fill="#1a1a1a" stroke="#1a1a1a" stroke-width="0.28" letter-spacing="-0.4">E013</text>
<line x1="64.6" y1="83.83" x2="68" y2="83.83" stroke="#111" stroke-width="1"/>
<text x="63.80" y="86.03" font-size="6.9" text-anchor="end" fill="#1a1a1a" stroke="#1a1a1a" stroke-width="0.28" letter-spacing="-0.4">E014</text>
<line x1="64.6" y1="95.76" x2="68" y2="95.76" stroke="#111" stroke-width="1"/>
<text x="63.80" y="97.96" font-size="6.9" text-anchor="end" fill="#1a1a1a" stroke="#1a1a1a" stroke-width="0.28" letter-spacing="-0.4">E018</text>
<line x1="64.6" y1="107.69" x2="68" y2="107.69" stroke="#111" stroke-width="1"/>
<text x="63.80" y="109.89" font-size="6.9" text-anchor="end" fill="#1a1a1a" stroke="#1a1a1a" stroke-width="0.28" letter-spacing="-0.4">E019</text>
<line x1="64.6" y1="119.62" x2="68" y2="119.62" stroke="#111" stroke-width="1"/>
<text x="63.80" y="121.82" font-size="6.9" text-anchor="end" fill="#1a1a1a" stroke="#1a1a1a" stroke-width="0.28" letter-spacing="-0.4">E020</text>
<line x1="64.6" y1="131.55" x2="68" y2="131.55" stroke="#111" stroke-width="1"/>
<text x="63.80" y="133.75" font-size="6.9" text-anchor="end" fill="#1a1a1a" stroke="#1a1a1a" stroke-width="0.28" letter-spacing="-0.4">E021</text>
<line x1="64.6" y1="143.48" x2="68" y2="143.48" stroke="#111" stroke-width="1"/>
<text x="63.80" y="145.68" font-size="6.9" text-anchor="end" fill="#1a1a1a" stroke="#1a1a1a" stroke-width="0.28" letter-spacing="-0.4">E022</text>
<line x1="64.6" y1="155.41" x2="68" y2="155.41" stroke="#111" stroke-width="1"/>
<text x="63.80" y="157.61" font-size="6.9" text-anchor="end" fill="#1a1a1a" stroke="#1a1a1a" stroke-width="0.28" letter-spacing="-0.4">E023</text>
<line x1="64.6" y1="167.34" x2="68" y2="167.34" stroke="#111" stroke-width="1"/>
<text x="63.80" y="169.54" font-size="6.9" text-anchor="end" fill="#1a1a1a" stroke="#1a1a1a" stroke-width="0.28" letter-spacing="-0.4">E025</text>
<line x1="64.6" y1="179.27" x2="68" y2="179.27" stroke="#111" stroke-width="1"/>
<text x="63.80" y="181.47" font-size="6.9" text-anchor="end" fill="#1a1a1a" stroke="#1a1a1a" stroke-width="0.28" letter-spacing="-0.4">E027</text>
<line x1="64.6" y1="191.20" x2="68" y2="191.20" stroke="#111" stroke-width="1"/>
<text x="63.80" y="193.40" font-size="6.9" text-anchor="end" fill="#1a1a1a" stroke="#1a1a1a" stroke-width="0.28" letter-spacing="-0.4">E030</text>
<line x1="64.6" y1="203.13" x2="68" y2="203.13" stroke="#111" stroke-width="1"/>
<text x="63.80" y="205.33" font-size="6.9" text-anchor="end" fill="#1a1a1a" stroke="#1a1a1a" stroke-width="0.28" letter-spacing="-0.4">E032</text>
<line x1="64.6" y1="215.06" x2="68" y2="215.06" stroke="#111" stroke-width="1"/>
<text x="63.80" y="217.26" font-size="6.9" text-anchor="end" fill="#1a1a1a" stroke="#1a1a1a" stroke-width="0.28" letter-spacing="-0.4">E034</text>
<line x1="64.6" y1="226.99" x2="68" y2="226.99" stroke="#111" stroke-width="1"/>
<text x="63.80" y="229.19" font-size="6.9" text-anchor="end" fill="#1a1a1a" stroke="#1a1a1a" stroke-width="0.28" letter-spacing="-0.4">E035</text>
<line x1="64.6" y1="238.92" x2="68" y2="238.92" stroke="#111" stroke-width="1"/>
<text x="63.80" y="241.12" font-size="6.9" text-anchor="end" fill="#1a1a1a" stroke="#1a1a1a" stroke-width="0.28" letter-spacing="-0.4">E038</text>
<line x1="64.6" y1="250.85" x2="68" y2="250.85" stroke="#111" stroke-width="1"/>
<text x="63.80" y="253.05" font-size="6.9" text-anchor="end" fill="#1a1a1a" stroke="#1a1a1a" stroke-width="0.28" letter-spacing="-0.4">E039</text>
<line x1="64.6" y1="262.78" x2="68" y2="262.78" stroke="#111" stroke-width="1"/>
<text x="63.80" y="264.98" font-size="6.9" text-anchor="end" fill="#1a1a1a" stroke="#1a1a1a" stroke-width="0.28" letter-spacing="-0.4">E041</text>
<line x1="64.6" y1="274.71" x2="68" y2="274.71" stroke="#111" stroke-width="1"/>
<text x="63.80" y="276.91" font-size="6.9" text-anchor="end" fill="#1a1a1a" stroke="#1a1a1a" stroke-width="0.28" letter-spacing="-0.4">E042</text>
<line x1="64.6" y1="286.64" x2="68" y2="286.64" stroke="#111" stroke-width="1"/>
<text x="63.80" y="288.84" font-size="6.9" text-anchor="end" fill="#1a1a1a" stroke="#1a1a1a" stroke-width="0.28" letter-spacing="-0.4">E009</text>
<line x1="64.6" y1="298.57" x2="68" y2="298.57" stroke="#111" stroke-width="1"/>
<text x="63.80" y="300.77" font-size="6.9" text-anchor="end" fill="#1a1a1a" stroke="#1a1a1a" stroke-width="0.28" letter-spacing="-0.4">E010</text>
<line x1="64.6" y1="310.50" x2="68" y2="310.50" stroke="#111" stroke-width="1"/>
<text x="63.80" y="312.70" font-size="6.9" text-anchor="end" fill="#1a1a1a" stroke="#1a1a1a" stroke-width="0.28" letter-spacing="-0.4">E003</text>
<line x1="64.6" y1="322.43" x2="68" y2="322.43" stroke="#111" stroke-width="1"/>
<text x="63.80" y="324.63" font-size="6.9" text-anchor="end" fill="#1a1a1a" stroke="#1a1a1a" stroke-width="0.28" letter-spacing="-0.4">E005</text>
<line x1="64.6" y1="334.36" x2="68" y2="334.36" stroke="#111" stroke-width="1"/>
<text x="63.80" y="336.56" font-size="6.9" text-anchor="end" fill="#1a1a1a" stroke="#1a1a1a" stroke-width="0.28" letter-spacing="-0.4">E017</text>
<line x1="64.6" y1="346.29" x2="68" y2="346.29" stroke="#111" stroke-width="1"/>
<text x="63.80" y="348.49" font-size="6.9" text-anchor="end" fill="#1a1a1a" stroke="#1a1a1a" stroke-width="0.28" letter-spacing="-0.4">E026</text>
<line x1="64.6" y1="358.22" x2="68" y2="358.22" stroke="#111" stroke-width="1"/>
<text x="63.80" y="360.42" font-size="6.9" text-anchor="end" fill="#1a1a1a" stroke="#1a1a1a" stroke-width="0.28" letter-spacing="-0.4">E031</text>
<line x1="64.6" y1="370.15" x2="68" y2="370.15" stroke="#111" stroke-width="1"/>
<text x="63.80" y="372.35" font-size="6.9" text-anchor="end" fill="#1a1a1a" stroke="#1a1a1a" stroke-width="0.28" letter-spacing="-0.4">E036</text>
<line x1="64.6" y1="382.08" x2="68" y2="382.08" stroke="#111" stroke-width="1"/>
<text x="63.80" y="384.28" font-size="6.9" text-anchor="end" fill="#1a1a1a" stroke="#1a1a1a" stroke-width="0.28" letter-spacing="-0.4">E043</text>
<line x1="64.6" y1="394.01" x2="68" y2="394.01" stroke="#111" stroke-width="1"/>
<text x="63.80" y="396.21" font-size="6.9" text-anchor="end" fill="#1a1a1a" stroke="#1a1a1a" stroke-width="0.28" letter-spacing="-0.4">E044</text>
<line x1="64.6" y1="405.94" x2="68" y2="405.94" stroke="#111" stroke-width="1"/>
<text x="63.80" y="408.14" font-size="6.9" text-anchor="end" fill="#1a1a1a" stroke="#1a1a1a" stroke-width="0.28" letter-spacing="-0.4">E047</text>
<line x1="64.6" y1="417.87" x2="68" y2="417.87" stroke="#111" stroke-width="1"/>
<text x="63.80" y="420.07" font-size="6.9" text-anchor="end" fill="#1a1a1a" stroke="#1a1a1a" stroke-width="0.28" letter-spacing="-0.4">E001</text>
<line x1="64.6" y1="429.80" x2="68" y2="429.80" stroke="#111" stroke-width="1"/>
<text x="63.80" y="432.00" font-size="6.9" text-anchor="end" fill="#1a1a1a" stroke="#1a1a1a" stroke-width="0.28" letter-spacing="-0.4">E002</text>
<line x1="64.6" y1="441.73" x2="68" y2="441.73" stroke="#111" stroke-width="1"/>
<text x="63.80" y="443.93" font-size="6.9" text-anchor="end" fill="#1a1a1a" stroke="#1a1a1a" stroke-width="0.28" letter-spacing="-0.4">E007</text>
<line x1="64.6" y1="453.66" x2="68" y2="453.66" stroke="#111" stroke-width="1"/>
<text x="63.80" y="455.86" font-size="6.9" text-anchor="end" fill="#1a1a1a" stroke="#1a1a1a" stroke-width="0.28" letter-spacing="-0.4">E028</text>
<line x1="64.6" y1="465.59" x2="68" y2="465.59" stroke="#111" stroke-width="1"/>
<text x="63.80" y="467.79" font-size="6.9" text-anchor="end" fill="#1a1a1a" stroke="#1a1a1a" stroke-width="0.28" letter-spacing="-0.4">E016</text>
<line x1="64.6" y1="477.52" x2="68" y2="477.52" stroke="#111" stroke-width="1"/>
<text x="63.80" y="479.72" font-size="6.9" text-anchor="end" fill="#1a1a1a" stroke="#1a1a1a" stroke-width="0.28" letter-spacing="-0.4">E045</text>
<line x1="64.6" y1="489.45" x2="68" y2="489.45" stroke="#111" stroke-width="1"/>
<text x="63.80" y="491.65" font-size="6.9" text-anchor="end" fill="#1a1a1a" stroke="#1a1a1a" stroke-width="0.28" letter-spacing="-0.4">E037</text>
<line x1="64.6" y1="501.38" x2="68" y2="501.38" stroke="#111" stroke-width="1"/>
<text x="63.80" y="503.58" font-size="6.9" text-anchor="end" fill="#1a1a1a" stroke="#1a1a1a" stroke-width="0.28" letter-spacing="-0.4">E040</text>
<line x1="64.6" y1="513.31" x2="68" y2="513.31" stroke="#111" stroke-width="1"/>
<text x="63.80" y="515.51" font-size="6.9" text-anchor="end" fill="#1a1a1a" stroke="#1a1a1a" stroke-width="0.28" letter-spacing="-0.4">E015</text>
<line x1="64.6" y1="525.24" x2="68" y2="525.24" stroke="#111" stroke-width="1"/>
<text x="63.80" y="527.44" font-size="6.9" text-anchor="end" fill="#1a1a1a" stroke="#1a1a1a" stroke-width="0.28" letter-spacing="-0.4">E024</text>
<line x1="64.6" y1="537.17" x2="68" y2="537.17" stroke="#111" stroke-width="1"/>
<text x="63.80" y="539.37" font-size="6.9" text-anchor="end" fill="#1a1a1a" stroke="#1a1a1a" stroke-width="0.28" letter-spacing="-0.4">E029</text>
<line x1="64.6" y1="549.10" x2="68" y2="549.10" stroke="#111" stroke-width="1"/>
<text x="63.80" y="551.30" font-size="6.9" text-anchor="end" fill="#1a1a1a" stroke="#1a1a1a" stroke-width="0.28" letter-spacing="-0.4">E033</text>
<line x1="64.6" y1="561.03" x2="68" y2="561.03" stroke="#111" stroke-width="1"/>
<text x="63.80" y="563.23" font-size="6.9" text-anchor="end" fill="#1a1a1a" stroke="#1a1a1a" stroke-width="0.28" letter-spacing="-0.4">E046</text>
<line x1="64.6" y1="572.96" x2="68" y2="572.96" stroke="#111" stroke-width="1"/>
<text x="63.80" y="575.16" font-size="6.9" text-anchor="end" fill="#1a1a1a" stroke="#1a1a1a" stroke-width="0.28" letter-spacing="-0.4">E048</text>
<line x1="64.6" y1="584.89" x2="68" y2="584.89" stroke="#111" stroke-width="1"/>
<text x="63.80" y="587.09" font-size="6.9" text-anchor="end" fill="#1a1a1a" stroke="#1a1a1a" stroke-width="0.28" letter-spacing="-0.4">E049</text>
<line x1="68.60" y1="592.6" x2="68.60" y2="595.3" stroke="#000" stroke-width="1"/>
<text x="68.60" y="601.60" font-size="6.4" text-anchor="middle" font-weight="bold" fill="#222">-500</text>
<line x1="131.00" y1="592.6" x2="131.00" y2="595.3" stroke="#000" stroke-width="1"/>
<text x="131.00" y="601.60" font-size="6.4" text-anchor="middle" font-weight="bold" fill="#222">0</text>
<line x1="193.00" y1="592.6" x2="193.00" y2="595.3" stroke="#000" stroke-width="1"/>
<text x="193.00" y="601.60" font-size="6.4" text-anchor="middle" font-weight="bold" fill="#222">500</text>
<line x1="255.00" y1="592.6" x2="255.00" y2="595.3" stroke="#000" stroke-width="1"/>
<text x="255.00" y="601.60" font-size="6.4" text-anchor="middle" font-weight="bold" fill="#222">1,000</text>
<line x1="317.00" y1="592.6" x2="317.00" y2="595.3" stroke="#000" stroke-width="1"/>
<text x="317.00" y="601.60" font-size="6.4" text-anchor="middle" font-weight="bold" fill="#222">1,500</text>
<line x1="379.00" y1="592.6" x2="379.00" y2="595.3" stroke="#000" stroke-width="1"/>
<text x="379.00" y="601.60" font-size="6.4" text-anchor="middle" font-weight="bold" fill="#222">2,000</text>
<line x1="441.00" y1="592.6" x2="441.00" y2="595.3" stroke="#000" stroke-width="1"/>
<text x="441.00" y="601.60" font-size="6.4" text-anchor="middle" font-weight="bold" fill="#222">2,500</text>
<text x="273.50" y="616.00" font-size="8.0" text-anchor="middle" font-weight="bold" fill="#111">Days after surgery</text>
<text x="1.30" y="13.75" font-size="17.6" font-weight="bold" fill="#000">A</text>
<path d="M40 13.2 H35.3 V402.4 H40" fill="none" stroke="#1c1c78" stroke-width="1.6"/>
<path d="M40 414.3 H35.3 V500.2 H40" fill="none" stroke="#2b8a62" stroke-width="1.6"/>
<path d="M40 510.2 H35.3 V585.2 H40" fill="none" stroke="#ef9a40" stroke-width="1.6"/>
<text x="16.60" y="184.20" font-size="7.6" text-anchor="middle" font-weight="bold" fill="#111">HR<tspan font-size="6.2" dy="-2.8">+</tspan><tspan dy="2.8">/</tspan></text>
<text x="17.30" y="192.10" font-size="7.6" text-anchor="middle" font-weight="bold" fill="#111">HER2<tspan font-size="6.2" dy="-2.8">−</tspan></text>
<text x="15.20" y="439.40" font-size="7.6" text-anchor="middle" font-weight="bold" fill="#111">HER2<tspan font-size="6.2" dy="-2.8">+</tspan></text>
<text x="17.20" y="528.90" font-size="7.5" text-anchor="middle" font-weight="bold" fill="#111">TNBC</text>
<rect x="395.6" y="471" width="125" height="119" fill="#fff"/>
<ellipse cx="407.9" cy="481.70" rx="3.2" ry="2.7" fill="#fff" stroke="#111" stroke-width="1.2"/>
<text x="417.20" y="484.20" font-size="8.4" fill="#111" stroke="#111" stroke-width="0.22">Negative</text>
<ellipse cx="407.9" cy="495.10" rx="3.8" ry="2.95" fill="#000"/>
<text x="417.20" y="497.60" font-size="8.4" fill="#111" stroke="#111" stroke-width="0.22">Positive</text>
<rect x="404.0" y="506.80" width="7.8" height="4.5" fill="#2c62b8"/>
<text x="417.20" y="511.30" font-size="8.4" fill="#111" stroke="#111" stroke-width="0.22">Chemotherapy</text>
<rect x="404.0" y="520.20" width="7.8" height="4.5" fill="#5e5e5e"/>
<text x="417.20" y="524.70" font-size="8.4" fill="#111" stroke="#111" stroke-width="0.22">Radiation therapy</text>
<rect x="404.0" y="533.70" width="7.8" height="4.5" fill="#4cae4c"/>
<text x="417.20" y="538.20" font-size="8.4" fill="#111" stroke="#111" stroke-width="0.22">Start of endocrine therapy</text>
<rect x="404.0" y="546.80" width="7.8" height="4.5" fill="#f8dea0" stroke="#f3d38a" stroke-width="0.5"/>
<text x="417.20" y="551.30" font-size="8.4" fill="#111" stroke="#111" stroke-width="0.22">Herceptin therapy</text>
<rect x="404.0" y="558.80" width="7.8" height="4.5" fill="#d81a2a"/>
<text x="417.20" y="563.30" font-size="8.4" fill="#111" stroke="#111" stroke-width="0.22">Clinical relapse</text>
<rect x="404.0" y="572.40" width="7.8" height="4.5" fill="#e4c4ea"/>
<text x="417.20" y="576.90" font-size="8.4" fill="#111" stroke="#111" stroke-width="0.22">Relapsed patient</text>
<text x="7.20" y="640.80" font-size="17" font-weight="bold" fill="#000">B</text>
<line x1="37.9" y1="633.8" x2="37.9" y2="753.4" stroke="#222" stroke-width="1.3"/>
<line x1="89.1" y1="633.8" x2="89.1" y2="753.4" stroke="#222" stroke-width="1.3"/>
<line x1="122.1" y1="633.8" x2="122.1" y2="753.4" stroke="#222" stroke-width="1.3"/>
<line x1="155.2" y1="633.8" x2="155.2" y2="753.4" stroke="#222" stroke-width="1.3"/>
<line x1="188.5" y1="633.8" x2="188.5" y2="753.4" stroke="#222" stroke-width="1.3"/>
<line x1="221.7" y1="633.8" x2="221.7" y2="753.4" stroke="#222" stroke-width="1.3"/>
<line x1="254.6" y1="633.8" x2="254.6" y2="753.4" stroke="#222" stroke-width="1.3"/>
<line x1="300.8" y1="633.8" x2="300.8" y2="753.4" stroke="#222" stroke-width="1.3"/>
<line x1="37.25" y1="633.8" x2="301.45" y2="633.8" stroke="#222" stroke-width="1.3"/>
<line x1="37.25" y1="696.7" x2="301.45" y2="696.7" stroke="#222" stroke-width="1.3"/>
<line x1="37.25" y1="711.3" x2="301.45" y2="711.3" stroke="#222" stroke-width="1.3"/>
<line x1="37.25" y1="725.6" x2="301.45" y2="725.6" stroke="#222" stroke-width="1.3"/>
<line x1="37.25" y1="739.4" x2="301.45" y2="739.4" stroke="#222" stroke-width="1.3"/>
<line x1="37.25" y1="753.4" x2="301.45" y2="753.4" stroke="#222" stroke-width="1.3"/>
<text x="60.77" y="665.50" transform="rotate(-90 60.77 665.50)" font-size="8.3" text-anchor="middle" font-weight="bold" fill="#111">Breast cancer</text>
<text x="71.67" y="665.00" transform="rotate(-90 71.67 665.00)" font-size="8.3" text-anchor="middle" font-weight="bold" fill="#111">subtypes</text>
<text x="107.67" y="665.50" transform="rotate(-90 107.67 665.50)" font-size="8.3" text-anchor="middle" font-weight="bold" fill="#111">Total patients</text>
<text x="141.37" y="665.50" transform="rotate(-90 141.37 665.50)" font-size="8.3" text-anchor="middle" font-weight="bold" fill="#111">Relapses</text>
<text x="174.47" y="665.80" transform="rotate(-90 174.47 665.80)" font-size="8.3" text-anchor="middle" font-weight="bold" fill="#111">% Detected</text>
<text x="207.77" y="667.20" transform="rotate(-90 207.77 667.20)" font-size="8.3" text-anchor="middle" font-weight="bold" fill="#111">PPV</text>
<text x="240.67" y="667.20" transform="rotate(-90 240.67 667.20)" font-size="8.3" text-anchor="middle" font-weight="bold" fill="#111">NPV</text>
<text x="274.27" y="667.00" transform="rotate(-90 274.27 667.00)" font-size="8.3" text-anchor="middle" font-weight="bold" fill="#111">Median lead</text>
<text x="285.27" y="667.00" transform="rotate(-90 285.27 667.00)" font-size="8.3" text-anchor="middle" font-weight="bold" fill="#111">time (days)</text>
<text x="63.50" y="707.48" font-size="8.6" text-anchor="middle" font-weight="bold" fill="#111">HR<tspan font-size="7.2" dy="-3">+</tspan><tspan dy="3">/HER2</tspan><tspan font-size="7.2" dy="-3">−</tspan></text>
<text x="105.60" y="707.48" font-size="8.6" text-anchor="middle" fill="#111" stroke="#111" stroke-width="0.25">34</text>
<text x="138.65" y="707.48" font-size="8.6" text-anchor="middle" fill="#111" stroke="#111" stroke-width="0.25">11</text>
<text x="171.85" y="707.48" font-size="8.6" text-anchor="middle" fill="#111" stroke="#111" stroke-width="0.25">82%</text>
<text x="205.10" y="707.48" font-size="8.6" text-anchor="middle" fill="#111" stroke="#111" stroke-width="0.25">100%</text>
<text x="238.15" y="707.48" font-size="8.6" text-anchor="middle" fill="#111" stroke="#111" stroke-width="0.25">92%</text>
<text x="277.70" y="707.48" font-size="8.6" text-anchor="middle" fill="#111" stroke="#111" stroke-width="0.25">301</text>
<text x="63.50" y="721.88" font-size="8.6" text-anchor="middle" font-weight="bold" fill="#111">HER2<tspan font-size="7.2" dy="-3">+</tspan></text>
<text x="105.60" y="721.88" font-size="8.6" text-anchor="middle" fill="#111" stroke="#111" stroke-width="0.25">8</text>
<text x="138.65" y="721.88" font-size="8.6" text-anchor="middle" fill="#111" stroke="#111" stroke-width="0.25">2</text>
<text x="171.85" y="721.88" font-size="8.6" text-anchor="middle" fill="#111" stroke="#111" stroke-width="0.25">100%</text>
<text x="205.10" y="721.88" font-size="8.6" text-anchor="middle" fill="#111" stroke="#111" stroke-width="0.25">100%</text>
<text x="238.15" y="721.88" font-size="8.6" text-anchor="middle" fill="#111" stroke="#111" stroke-width="0.25">100%</text>
<text x="277.70" y="721.88" font-size="8.6" text-anchor="middle" fill="#111" stroke="#111" stroke-width="0.25">164</text>
<text x="63.50" y="735.88" font-size="8.6" text-anchor="middle" font-weight="bold" fill="#111">TNBC</text>
<text x="105.60" y="735.88" font-size="8.6" text-anchor="middle" fill="#111" stroke="#111" stroke-width="0.25">7</text>
<text x="138.65" y="735.88" font-size="8.6" text-anchor="middle" fill="#111" stroke="#111" stroke-width="0.25">5</text>
<text x="171.85" y="735.88" font-size="8.6" text-anchor="middle" fill="#111" stroke="#111" stroke-width="0.25">100%</text>
<text x="205.10" y="735.88" font-size="8.6" text-anchor="middle" fill="#111" stroke="#111" stroke-width="0.25">100%</text>
<text x="238.15" y="735.88" font-size="8.6" text-anchor="middle" fill="#111" stroke="#111" stroke-width="0.25">100%</text>
<text x="277.70" y="735.88" font-size="8.6" text-anchor="middle" fill="#111" stroke="#111" stroke-width="0.25">258</text>
<text x="63.50" y="749.68" font-size="8.6" text-anchor="middle" font-weight="bold" fill="#111">TOTAL</text>
<text x="105.60" y="749.68" font-size="8.6" text-anchor="middle" fill="#111" stroke="#111" stroke-width="0.25">49</text>
<text x="138.65" y="749.68" font-size="8.6" text-anchor="middle" fill="#111" stroke="#111" stroke-width="0.25">18</text>
<text x="171.85" y="749.68" font-size="8.6" text-anchor="middle" fill="#111" stroke="#111" stroke-width="0.25">89%</text>
<text x="205.10" y="749.68" font-size="8.6" text-anchor="middle" fill="#111" stroke="#111" stroke-width="0.25">100%</text>
<text x="238.15" y="749.68" font-size="8.6" text-anchor="middle" fill="#111" stroke="#111" stroke-width="0.25">94%</text>
<text x="277.70" y="749.68" font-size="8.6" text-anchor="middle" fill="#111" stroke="#111" stroke-width="0.25">285</text>
<text x="311.40" y="642.20" font-size="17" font-weight="bold" fill="#000">C</text>
<line x1="348.9" y1="637.3" x2="348.9" y2="744.1" stroke="#111" stroke-width="1.4"/>
<line x1="348.2" y1="743.4" x2="510" y2="743.4" stroke="#111" stroke-width="1.4"/>
<line x1="346.29999999999995" y1="743.40" x2="348.9" y2="743.40" stroke="#111" stroke-width="1"/>
<text x="345.00" y="745.70" font-size="6.5" text-anchor="end" font-weight="bold" fill="#1a1a1a" stroke="#1a1a1a" stroke-width="0.12">0</text>
<line x1="346.29999999999995" y1="717.00" x2="348.9" y2="717.00" stroke="#111" stroke-width="1"/>
<text x="345.00" y="719.30" font-size="6.5" text-anchor="end" font-weight="bold" fill="#1a1a1a" stroke="#1a1a1a" stroke-width="0.12">500</text>
<line x1="346.29999999999995" y1="690.60" x2="348.9" y2="690.60" stroke="#111" stroke-width="1"/>
<text x="345.00" y="692.90" font-size="6.5" text-anchor="end" font-weight="bold" fill="#1a1a1a" stroke="#1a1a1a" stroke-width="0.12">1,000</text>
<line x1="346.29999999999995" y1="664.20" x2="348.9" y2="664.20" stroke="#111" stroke-width="1"/>
<text x="345.00" y="666.50" font-size="6.5" text-anchor="end" font-weight="bold" fill="#1a1a1a" stroke="#1a1a1a" stroke-width="0.12">1,500</text>
<line x1="346.29999999999995" y1="637.80" x2="348.9" y2="637.80" stroke="#111" stroke-width="1"/>
<text x="345.00" y="640.10" font-size="6.5" text-anchor="end" font-weight="bold" fill="#1a1a1a" stroke="#1a1a1a" stroke-width="0.12">2,000</text>
<line x1="394.9" y1="743.4" x2="394.9" y2="746.2" stroke="#111" stroke-width="1"/>
<line x1="464.3" y1="743.4" x2="464.3" y2="746.2" stroke="#111" stroke-width="1"/>
<text x="394.70" y="757.00" font-size="6.7" text-anchor="middle" font-weight="bold" fill="#111">Molecular relapse</text>
<text x="463.00" y="757.00" font-size="6.7" text-anchor="middle" font-weight="bold" fill="#111">Clinican relapse</text>
<text x="323.74" y="690.00" transform="rotate(-90 323.74 690.00)" font-size="7.1" text-anchor="middle" font-weight="bold" fill="#111">Days</text>
<path d="M390.6 652.8 V648.6 H457.6 V652.8" fill="none" stroke="#333" stroke-width="0.9"/>
<text x="425.50" y="649.00" font-size="9.5" text-anchor="middle" font-weight="bold" fill="#111">***</text>
<rect x="354.1" y="625.8" width="3" height="3" fill="#1c1c7c"/>
<rect x="413.1" y="625.8" width="3" height="3" fill="#3a8a3a"/>
<rect x="455.5" y="625.8" width="3" height="3" fill="#f2a838"/>
<text x="365.60" y="630.00" font-size="6.6" fill="#111" stroke="#111" stroke-width="0.15">HR<tspan font-size="5.2" dy="-2.6">+</tspan><tspan dy="2.6">/HER2</tspan><tspan font-size="5.2" dy="-2.6">−</tspan></text>
<text x="424.80" y="630.00" font-size="6.6" fill="#111" stroke="#111" stroke-width="0.15">HER2<tspan font-size="5.2" dy="-2.6">+</tspan></text>
<text x="467.50" y="630.00" font-size="6.6" fill="#111" stroke="#111" stroke-width="0.15">TNBC</text>
<line x1="394.9" y1="683.5" x2="464.3" y2="667.7" stroke="#1c1c7c" stroke-width="1.15"/>
<line x1="394.9" y1="695.0" x2="464.3" y2="657.4" stroke="#1c1c7c" stroke-width="1.15"/>
<line x1="394.9" y1="696.0" x2="464.3" y2="680.5" stroke="#1c1c7c" stroke-width="1.15"/>
<line x1="394.9" y1="708.0" x2="464.3" y2="676.1" stroke="#1c1c7c" stroke-width="1.15"/>
<line x1="394.9" y1="713.0" x2="464.3" y2="691.6" stroke="#1c1c7c" stroke-width="1.15"/>
<line x1="394.9" y1="713.5" x2="464.3" y2="697.6" stroke="#1c1c7c" stroke-width="1.15"/>
<line x1="394.9" y1="718.1" x2="464.3" y2="714.8" stroke="#1c1c7c" stroke-width="1.15"/>
<line x1="394.9" y1="726.8" x2="464.3" y2="721.5" stroke="#1c1c7c" stroke-width="1.15"/>
<line x1="394.9" y1="731.8" x2="464.3" y2="727.5" stroke="#1c1c7c" stroke-width="1.15"/>
<line x1="394.9" y1="733.0" x2="464.3" y2="729.5" stroke="#1c1c7c" stroke-width="1.15"/>
<line x1="394.9" y1="708.0" x2="464.3" y2="693.6" stroke="#f2a838" stroke-width="1.15"/>
<line x1="394.9" y1="724.6" x2="464.3" y2="720.3" stroke="#f2a838" stroke-width="1.15"/>
<line x1="394.9" y1="729.0" x2="464.3" y2="723.0" stroke="#f2a838" stroke-width="1.15"/>
<line x1="394.9" y1="737.5" x2="464.3" y2="707.0" stroke="#f2a838" stroke-width="1.15"/>
<line x1="394.9" y1="735.5" x2="464.3" y2="722.2" stroke="#f2a838" stroke-width="1.15"/>
<line x1="394.9" y1="676.4" x2="464.3" y2="659.5" stroke="#3a8a3a" stroke-width="1.15"/>
<line x1="394.9" y1="736.4" x2="464.3" y2="705.6" stroke="#3a8a3a" stroke-width="1.15"/>
<rect x="393.2" y="674.6999999999999" width="3.4" height="3.4" fill="#3a8a3a"/>
<rect x="462.6" y="657.8" width="3.4" height="3.4" fill="#3a8a3a"/>
<rect x="393.2" y="734.6999999999999" width="3.4" height="3.4" fill="#3a8a3a"/>
<rect x="462.6" y="703.9" width="3.4" height="3.4" fill="#3a8a3a"/>
<rect x="393.2" y="681.8" width="3.4" height="3.4" fill="#1c1c7c"/>
<rect x="462.6" y="666.0" width="3.4" height="3.4" fill="#1c1c7c"/>
<rect x="393.2" y="693.3" width="3.4" height="3.4" fill="#1c1c7c"/>
<rect x="462.6" y="655.6999999999999" width="3.4" height="3.4" fill="#1c1c7c"/>
<rect x="393.2" y="694.3" width="3.4" height="3.4" fill="#1c1c7c"/>
<rect x="462.6" y="678.8" width="3.4" height="3.4" fill="#1c1c7c"/>
<rect x="393.2" y="706.3" width="3.4" height="3.4" fill="#1c1c7c"/>
<rect x="462.6" y="674.4" width="3.4" height="3.4" fill="#1c1c7c"/>
<rect x="393.2" y="711.3" width="3.4" height="3.4" fill="#1c1c7c"/>
<rect x="462.6" y="689.9" width="3.4" height="3.4" fill="#1c1c7c"/>
<rect x="393.2" y="711.8" width="3.4" height="3.4" fill="#1c1c7c"/>
<rect x="462.6" y="695.9" width="3.4" height="3.4" fill="#1c1c7c"/>
<rect x="393.2" y="716.4" width="3.4" height="3.4" fill="#1c1c7c"/>
<rect x="462.6" y="713.0999999999999" width="3.4" height="3.4" fill="#1c1c7c"/>
<rect x="393.2" y="725.0999999999999" width="3.4" height="3.4" fill="#1c1c7c"/>
<rect x="462.6" y="719.8" width="3.4" height="3.4" fill="#1c1c7c"/>
<rect x="393.2" y="730.0999999999999" width="3.4" height="3.4" fill="#1c1c7c"/>
<rect x="462.6" y="725.8" width="3.4" height="3.4" fill="#1c1c7c"/>
<rect x="393.2" y="731.3" width="3.4" height="3.4" fill="#1c1c7c"/>
<rect x="462.6" y="727.8" width="3.4" height="3.4" fill="#1c1c7c"/>
<rect x="393.2" y="706.3" width="3.4" height="3.4" fill="#f2a838"/>
<rect x="462.6" y="691.9" width="3.4" height="3.4" fill="#f2a838"/>
<rect x="393.2" y="722.9" width="3.4" height="3.4" fill="#f2a838"/>
<rect x="462.6" y="718.5999999999999" width="3.4" height="3.4" fill="#f2a838"/>
<rect x="393.2" y="727.3" width="3.4" height="3.4" fill="#f2a838"/>
<rect x="462.6" y="721.3" width="3.4" height="3.4" fill="#f2a838"/>
<rect x="393.2" y="735.8" width="3.4" height="3.4" fill="#f2a838"/>
<rect x="462.6" y="705.3" width="3.4" height="3.4" fill="#f2a838"/>
<rect x="393.2" y="733.8" width="3.4" height="3.4" fill="#f2a838"/>
<rect x="462.6" y="720.5" width="3.4" height="3.4" fill="#f2a838"/>
</svg>
</body></html>
